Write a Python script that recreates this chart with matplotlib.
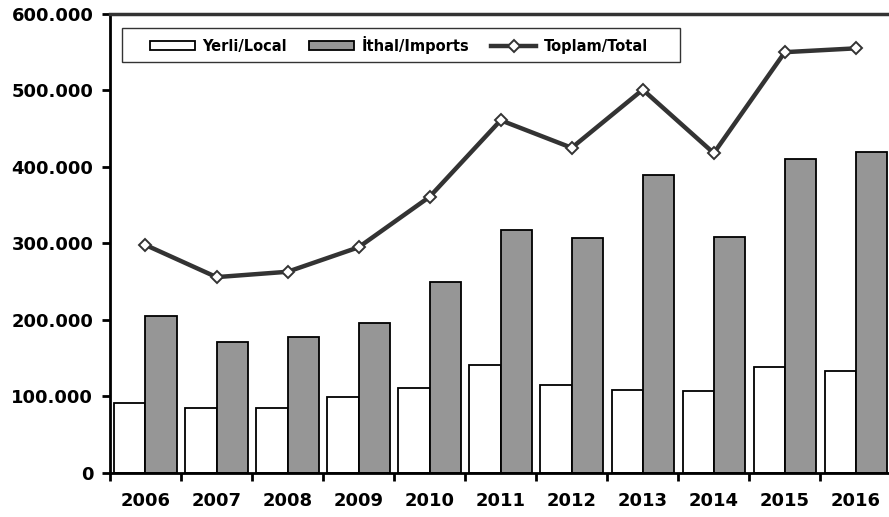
import numpy as np
from matplotlib import pyplot as plt
from matplotlib.patches import Rectangle
from matplotlib.ticker import FuncFormatter

years = ["2006", "2007", "2008", "2009", "2010", "2011",
         "2012", "2013", "2014", "2015", "2016"]
local = [91000, 85000, 85000, 99000, 111000, 141000,
         115000, 108000, 107000, 139000, 133000]
imports = [205000, 171000, 178000, 196000, 250000, 318000,
           307000, 390000, 308000, 410000, 420000]
total = [298000, 256000, 263000, 295000, 361000, 461000,
         425000, 501000, 418000, 550000, 555000]

plt.rcParams["font.family"] = "DejaVu Sans"
plt.rcParams["font.weight"] = "bold"

fig = plt.figure(figsize=(8.89, 5.17), dpi=100)
ax = fig.add_axes([0.1237, 0.0851, 0.879, 0.888])

x = np.arange(len(years))
w = 0.44
b1 = ax.bar(x - 0.22, local, w, color="white", edgecolor="black", linewidth=1.3,
            label="Yerli/Local", zorder=2)
b2 = ax.bar(x + 0.22, imports, w, color="#969696", edgecolor="black", linewidth=1.3,
            label="İthal/Imports", zorder=2)
ln, = ax.plot(x, total, color="#333333", linewidth=3.2, marker="D", markersize=6,
              markerfacecolor="white", markeredgecolor="#333333", markeredgewidth=1.4,
              label="Toplam/Total", zorder=3)

ax.set_xlim(-0.5, 10.5)
ax.set_ylim(0, 600000)
ax.set_yticks(np.arange(0, 600001, 100000))
ax.yaxis.set_major_formatter(FuncFormatter(
    lambda v, p: "0" if v == 0 else f"{v:,.0f}".replace(",", ".")))
ax.set_xticks(x)
ax.set_xticklabels(years)
ax.set_xticks(np.arange(-0.5, 10.6, 1), minor=True)
ax.tick_params(axis="x", which="major", length=0, pad=14, labelsize=13)
ax.tick_params(axis="x", which="minor", length=6, width=2)
ax.tick_params(axis="y", length=6, width=2, labelsize=13, pad=6)

for s in ["left", "bottom"]:
    ax.spines[s].set_linewidth(2)
ax.spines["top"].set_color("#333333")
ax.spines["top"].set_linewidth(2.5)
ax.spines["right"].set_visible(False)

# legend box drawn by hand so the padding matches
ax.add_patch(Rectangle((0.0154, 0.8952), 0.7141, 0.0741, transform=ax.transAxes,
                       facecolor="white", edgecolor="#333333", linewidth=1, zorder=4))
leg = ax.legend(handles=[b1, b2, ln], loc="center left",
                bbox_to_anchor=(0.0512, 0.9323), ncol=3, frameon=False,
                fontsize=10.5, handlelength=3.1, handleheight=0.55,
                handletextpad=0.5, columnspacing=1.5, borderpad=0,
                borderaxespad=0)
leg.set_zorder(5)

plt.savefig("out.png", dpi=100)
